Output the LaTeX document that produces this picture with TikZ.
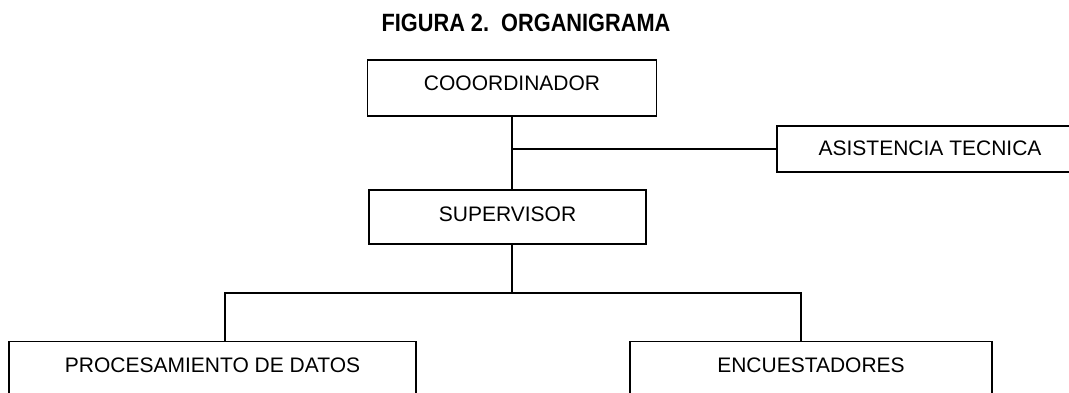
\documentclass[tikz,border=0pt]{standalone}
\usepackage{fontspec}
\setmainfont{Liberation Sans}
\newfontfamily\titlefont[FakeStretch=0.87]{Liberation Sans}
\usetikzlibrary{positioning}
\tikzstyle{org_box}=[draw=black, line width=1.8pt, font=\fontsize{21}{25}\selectfont,
    text height=15pt, text depth=9pt, inner sep=0pt]
\tikzstyle{org_line}=[line width=1.8pt]

\begin{document}
\begin{tikzpicture}[x=1pt, y=-1pt]
          \useasboundingbox (0,0) rectangle (1069,393);
          \clip (0,0) rectangle (1069,393);
          \node[anchor=base, font=\titlefont\bfseries\fontsize{25}{30}\selectfont] (title) at (526,32){FIGURA 2.\ \ ORGANIGRAMA};
          \node[org_box, minimum width=289pt, minimum height=56pt] (coord) at (512,88){COOORDINADOR};
          \node[org_box, minimum width=306pt, minimum height=46pt, text depth=1pt] (asist) at (930,149){ASISTENCIA TECNICA};
          \node[org_box, minimum width=277pt, minimum height=54pt, text depth=5pt] (sup) at (507.5,217){SUPERVISOR};
          \node[org_box, minimum width=407pt, minimum height=56pt] (proc) at (212.5,369.5){PROCESAMIENTO DE DATOS};
          \node[org_box, minimum width=362pt, minimum height=56pt] (enc) at (811,369.5){ENCUESTADORES};
          \coordinate (lbranch) at (225,293);
          \coordinate (rbranch) at (801,293);
          \draw[org_line](coord.south) -- (coord.south |- sup.north);
          \draw[org_line](coord.south |- asist.west) -- (asist.west);
          \draw[org_line](coord.south |- sup.south) -- (coord.south |- lbranch);
          \draw[org_line](lbranch |- proc.north) -- (lbranch) -- (rbranch) -- (rbranch |- enc.north);
        \end{tikzpicture}
\end{document}
